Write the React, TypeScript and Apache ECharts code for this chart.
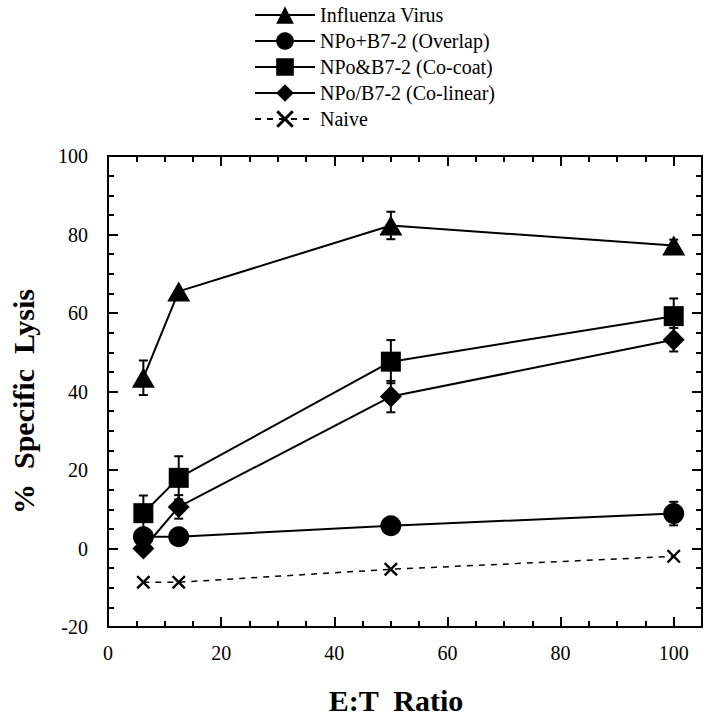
import React, { useEffect, useRef } from "react";
import * as echarts from "echarts";

const ratios = [6.25, 12.5, 50, 100];
const seriesNames = [
  "Influenza Virus",
  "NPo+B7-2 (Overlap)",
  "NPo&B7-2 (Co-coat)",
  "NPo/B7-2 (Co-linear)",
  "Naive",
];
const influenza = [43.5, 65.5, 82.3, 77.2];
const influenzaErr = [4.4, 0, 3.5, 1.5];
const overlap = [3.0, 3.0, 5.8, 8.9];
const overlapErr = [1.5, 0, 1.0, 3.0];
const cocoat = [9.0, 18.0, 47.6, 59.2];
const cocoatErr = [4.5, 5.5, 5.5, 4.5];
const colinear = [0.0, 10.6, 38.7, 53.2];
const colinearErr = [1.0, 3.0, 4.0, 3.0];
const naive = [-8.6, -8.6, -5.3, -2.0];

const FONT = "'Liberation Serif', 'DejaVu Serif', serif";
const XSYM =
  "path://M0,1.2L1.2,0L5,3.8L8.8,0L10,1.2L6.2,5L10,8.8L8.8,10L5,6.2L1.2,10L0,8.8L3.8,5Z";

function lineSeries(name: string, vals: number[], symbol: string, size: any, dashed = false) {
  return {
    type: "line",
    name,
    xAxisIndex: 0,
    yAxisIndex: 0,
    data: ratios.map((x, i) => [x, vals[i]]),
    symbol,
    symbolSize: size,
    z: 3,
    lineStyle: { color: "#000", width: dashed ? 1.5 : 2, type: dashed ? [6, 6] : "solid" },
    itemStyle: { color: "#000", borderWidth: 0 },
    showSymbol: true,
    silent: true,
  };
}

function errSeries(vals: number[], errs: number[]) {
  const data: number[][] = [];
  ratios.forEach((x, i) => {
    if (errs[i] > 0) data.push([x, vals[i] - errs[i], vals[i] + errs[i]]);
  });
  return {
    type: "custom",
    xAxisIndex: 0,
    yAxisIndex: 0,
    z: 2,
    silent: true,
    data,
    encode: { x: 0, y: [1, 2] },
    renderItem: (params: any, api: any) => {
      const x = api.value(0);
      const lo = api.value(1);
      const hi = api.value(2);
      const p1 = api.coord([x, hi]);
      const p2 = api.coord([x, lo]);
      const hw = 4.5;
      const style = { stroke: "#000", lineWidth: 2 };
      return {
        type: "group",
        children: [
          { type: "line", shape: { x1: p1[0], y1: p1[1], x2: p2[0], y2: p2[1] }, style },
          { type: "line", shape: { x1: p1[0] - hw, y1: p1[1], x2: p1[0] + hw, y2: p1[1] }, style },
          { type: "line", shape: { x1: p2[0] - hw, y1: p2[1], x2: p2[0] + hw, y2: p2[1] }, style },
        ],
      };
    },
  };
}

const lineSt = { color: "#000", width: 2 };

function xAx(position: string, interval: number, tickLen: number, major: boolean, labels: boolean) {
  const a: any = {
    type: "value",
    position,
    min: 0,
    max: 105,
    interval,
    axisLine: { show: major, onZero: false, lineStyle: lineSt },
    axisTick: { show: true, inside: true, length: tickLen, lineStyle: lineSt },
    axisLabel: labels
      ? {
          show: true,
          fontFamily: FONT,
          fontSize: 20,
          color: "#000",
          margin: 16,
          formatter: (v: number) => (v % 20 === 0 ? String(v) : ""),
        }
      : { show: false },
    splitLine: { show: false },
  };
  if (labels) {
    a.name = "E:T  Ratio";
    a.nameLocation = "middle";
    a.nameGap = 58;
    a.nameTextStyle = {
      fontFamily: FONT,
      fontSize: 30,
      fontWeight: "bold",
      color: "#000",
      padding: [0, 18, 0, 0],
    };
  }
  return a;
}

function yAx(position: string, interval: number, tickLen: number, major: boolean, labels: boolean) {
  const a: any = {
    type: "value",
    position,
    min: -20,
    max: 100,
    interval,
    axisLine: { show: major, onZero: false, lineStyle: lineSt },
    axisTick: { show: true, inside: true, length: tickLen, lineStyle: lineSt },
    axisLabel: labels
      ? { show: true, fontFamily: FONT, fontSize: 20, color: "#000", margin: 20 }
      : { show: false },
    splitLine: { show: false },
  };
  if (labels) {
    a.name = "%  Specific  Lysis";
    a.nameLocation = "middle";
    a.nameGap = 70;
    a.nameTextStyle = {
      fontFamily: FONT,
      fontSize: 30,
      fontWeight: "bold",
      color: "#000",
      padding: [0, 20, 0, 0],
    };
  }
  return a;
}

export default function App() {
  const ref = useRef<HTMLDivElement>(null);
  useEffect(() => {
    if (!ref.current) return;
    const chart = echarts.init(ref.current, null, { renderer: "svg" });
    chart.setOption({
      animation: false,
      backgroundColor: "#fff",
      grid: { left: 103, right: 6, top: 156, bottom: 91, containLabel: false },
      legend: {
        data: seriesNames,
        orient: "vertical",
        left: 254,
        top: 5,
        padding: 0,
        itemWidth: 60,
        itemHeight: 22,
        itemGap: 6,
        selectedMode: false,
        textStyle: { fontFamily: FONT, fontSize: 20, color: "#000" },
      },
      xAxis: [
        xAx("bottom", 20, 10, true, true),
        xAx("bottom", 5, 6, false, false),
        xAx("top", 20, 10, true, false),
        xAx("top", 5, 6, false, false),
      ],
      yAxis: [
        yAx("left", 20, 10, true, true),
        yAx("left", 5, 6, false, false),
        yAx("right", 20, 10, true, false),
        yAx("right", 5, 6, false, false),
      ],
      series: [
        lineSeries(seriesNames[0], influenza, "triangle", [23, 20]),
        lineSeries(seriesNames[1], overlap, "circle", 21),
        lineSeries(seriesNames[2], cocoat, "rect", 20),
        lineSeries(seriesNames[3], colinear, "diamond", 22),
        lineSeries(seriesNames[4], naive, XSYM, 14, true),
        errSeries(influenza, influenzaErr),
        errSeries(overlap, overlapErr),
        errSeries(cocoat, cocoatErr),
        errSeries(colinear, colinearErr),
      ],
    });
    return () => chart.dispose();
  }, []);
  return (
    <div
      ref={ref}
      style={{ position: "fixed", left: 0, top: 0, width: 708, height: 720, background: "#fff" }}
    />
  );
}
